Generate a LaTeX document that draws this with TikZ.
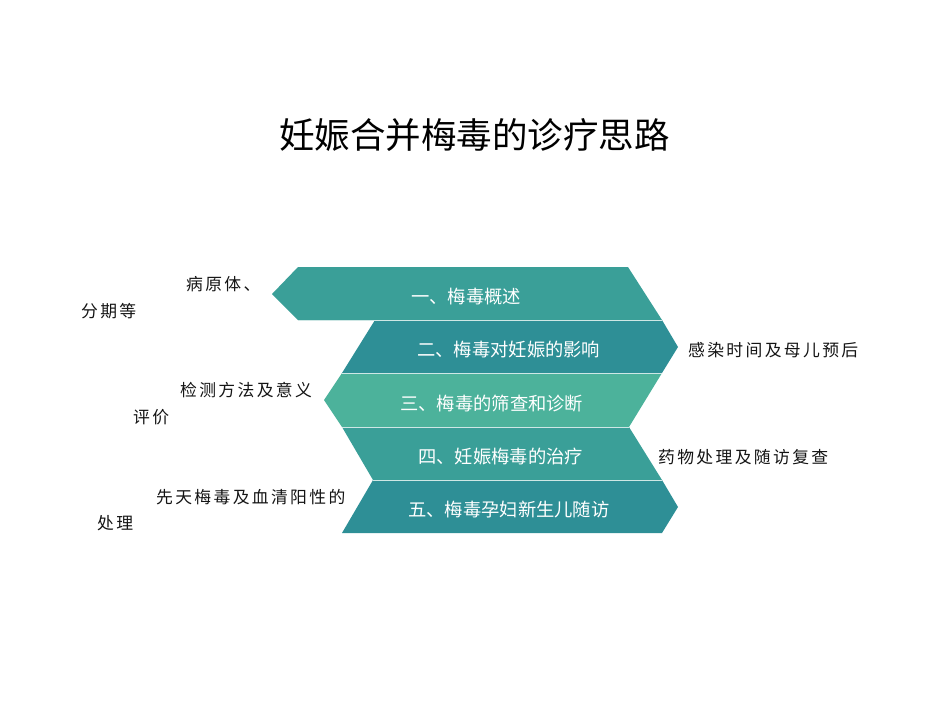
\documentclass[tikz,border=0pt]{standalone}
\usepackage{fontspec}
\newfontfamily\cjk{Noto Sans CJK SC}
\newfontfamily\cjkside[LetterSpace=14]{Noto Sans CJK SC}
\definecolor{bandA}{RGB}{58,159,152}
\definecolor{bandB}{RGB}{46,143,150}
\definecolor{bandC}{RGB}{76,178,155}
\definecolor{txt}{RGB}{20,20,20}
\begin{document}
\begin{tikzpicture}[x=1pt,y=-1pt,
  band/.style={draw=white!75!bandA,line width=0.7pt,line join=miter},
  bandtext/.style={anchor=west,inner sep=0pt,text=white,font=\cjk\fontsize{18.3}{22}\selectfont},
  sidetext/.style={anchor=west,inner sep=0pt,text=txt,font=\cjkside\fontsize{16.8}{20}\selectfont}]
\useasboundingbox (0,0) rectangle (950,713);
% title
\node[anchor=west,inner sep=0pt,text=black,font=\cjk\fontsize{35.5}{40}\selectfont] (title) at (279,135) {妊娠合并梅毒的诊疗思路};
% bands
\fill[bandA] (272,294) -- (298,267) -- (628,267) -- (662,320) -- (298,320) -- cycle;
\fill[bandB] (375,320) -- (662,320) -- (678,347) -- (662,373) -- (342,373) -- cycle;
\fill[bandC] (342,373) -- (662,373) -- (629,427) -- (342,427) -- (324,400) -- cycle;
\fill[bandA] (342,427) -- (629,427) -- (662,480) -- (373,480) -- cycle;
\fill[bandB] (373,480) -- (662,480) -- (678,507) -- (662,533) -- (342,533) -- cycle;
% separators
\draw[band] (298,320) -- (662,320);
\draw[band] (342,373) -- (662,373);
\draw[band] (342,427) -- (629,427);
\draw[band] (373,480) -- (662,480);
% band texts
\node[bandtext] (b1) at (411,297) {一、梅毒概述};
\node[bandtext] (b2) at (417,350) {二、梅毒对妊娠的影响};
\node[bandtext] (b3) at (400,404) {三、梅毒的筛查和诊断};
\node[bandtext] (b4) at (418,457) {四、妊娠梅毒的治疗};
\node[bandtext] (b5) at (408,510) {五、梅毒孕妇新生儿随访};
% side labels
\node[sidetext] (l1a) at (186,284) {病原体、};
\node[sidetext] (l1b) at (81,311) {分期等};
\node[sidetext] (r2) at (688,350) {感染时间及母儿预后};
\node[sidetext] (l3a) at (180,390) {检测方法及意义};
\node[sidetext] (l3b) at (133,417) {评价};
\node[sidetext] (r4) at (658,457) {药物处理及随访复查};
\node[sidetext] (l5a) at (156,497) {先天梅毒及血清阳性的};
\node[sidetext] (l5b) at (97,523) {处理};
\end{tikzpicture}
\end{document}
